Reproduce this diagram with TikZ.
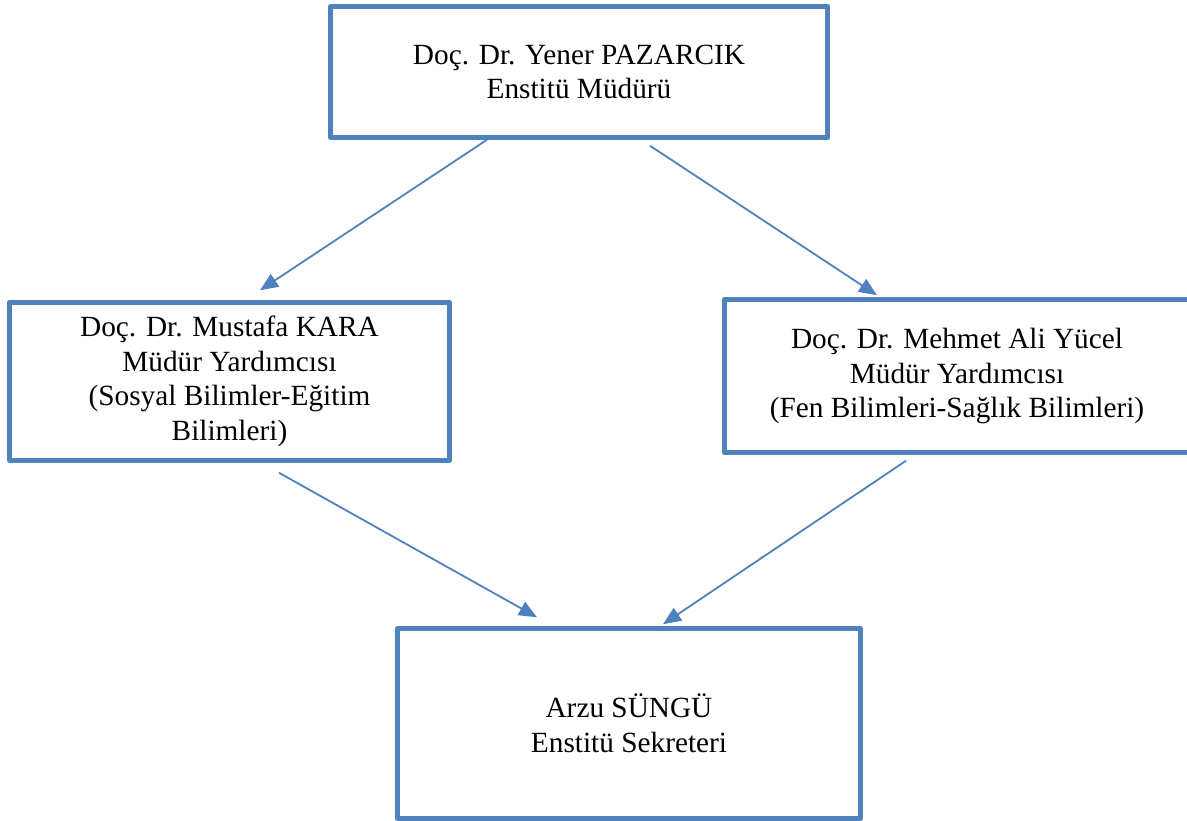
\documentclass[tikz,border=0pt]{standalone}
\usepackage{fontspec}
\setmainfont{Liberation Serif}
\usetikzlibrary{arrows.meta,calc}
\definecolor{boxblue}{RGB}{79,129,189}
\tikzset{
  orgbox/.style={draw=boxblue, line width=4.5pt, line join=round, fill=white,
    align=center, inner sep=0pt, font=\fontsize{29.3}{34.5}\selectfont},
  link/.style={draw=boxblue, line width=1.8pt, -{Triangle[length=18pt,width=15pt]}}
}
\begin{document}
\begin{tikzpicture}[x=1pt,y=-1pt]
\useasboundingbox (0,0) rectangle (1187,821);
\clip (0,0) rectangle (1187,821);
\node[orgbox, minimum width=497pt, minimum height=131pt] (top) at (579,72)
  {Doç. Dr. Yener PAZARCIK\\Enstitü Müdürü};
\node[orgbox, minimum width=440pt, minimum height=158pt] (left) at (229.5,381.5)
  {Doç. Dr. Mustafa KARA\\Müdür Yardımcısı\\(Sosyal Bilimler-Eğitim\\Bilimleri)};
\node[orgbox, minimum width=465pt, minimum height=153pt] (right) at (957,376)
  {Doç. Dr. Mehmet Ali Yücel\\Müdür Yardımcısı\\(Fen Bilimleri-Sağlık Bilimleri)};
\node[orgbox, minimum width=463pt, minimum height=190pt] (bottom) at (629,723.5)
  {Arzu SÜNGÜ\\Enstitü Sekreteri};
\draw[link] ($(top.south)+(-92,0)$) -- ($(left.north)+(30.5,-10)$);
\draw[link] ($(top.south)+(71,6)$) -- ($(right.north)+(-80,-2)$);
\draw[link] ($(left.south)+(49.5,10)$) -- ($(bottom.north)+(-92,-9)$);
\draw[link] ($(right.south)+(-51,6)$) -- ($(bottom.north)+(34,-2)$);
\end{tikzpicture}
\end{document}
